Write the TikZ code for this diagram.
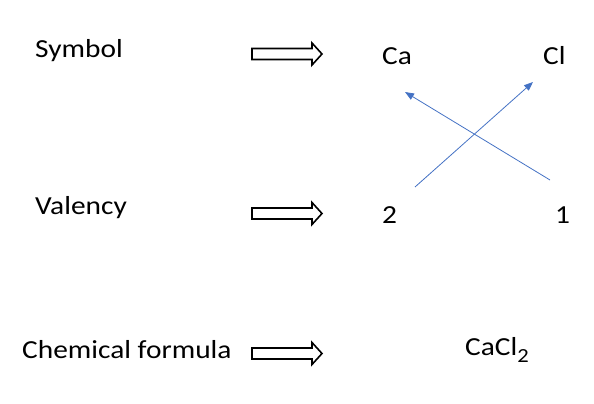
\documentclass[tikz,border=0pt]{standalone}
\usepackage{fontspec}
\setmainfont{Carlito}[FakeStretch=1.13]
\usetikzlibrary{arrows.meta}
\definecolor{lineblue}{HTML}{4472C4}
\tikzset{
  lbl/.style={anchor=base west, inner sep=0pt, font=\fontsize{26}{30}\selectfont},
  blockarrow/.style={draw=black, line width=1.6pt, fill=white},
  link/.style={draw=lineblue, line width=0.8pt, -{Triangle[length=9pt,width=7pt]}}
}
\newcommand{\blockarr}[1]{%
  \draw[blockarrow] (252,#1-5.5) -- (312,#1-5.5) -- (312,#1-11) -- (322,#1) -- (312,#1+11) -- (312,#1+5.5) -- (252,#1+5.5) -- cycle;}
\begin{document}
\begin{tikzpicture}[x=1pt,y=-1pt]
\useasboundingbox (0,0) rectangle (594,404);
\node[lbl] (symbol) at (35,58) {Symbol};
\node[lbl] (valency) at (35,214) {Valency};
\node[lbl] (chem) at (22,358) {Chemical formula};
\node[lbl] (ca) at (382,65) {Ca};
\node[lbl] (cl) at (543,65) {Cl};
\node[lbl] (two) at (382,223) {2};
\node[lbl] (one) at (555,223) {1};
\node[lbl] (formula) at (465,355) {CaCl\raisebox{-7pt}{\fontsize{20}{22}\selectfont 2}};
\blockarr{54}
\blockarr{213.5}
\blockarr{353.5}
\coordinate (s2) at (415,187);
\coordinate (e2) at (533,82);
\coordinate (s1) at (550,180);
\coordinate (e1) at (405,92);
\draw[link] (s2) -- (e2);
\draw[link] (s1) -- (e1);
\end{tikzpicture}
\end{document}
